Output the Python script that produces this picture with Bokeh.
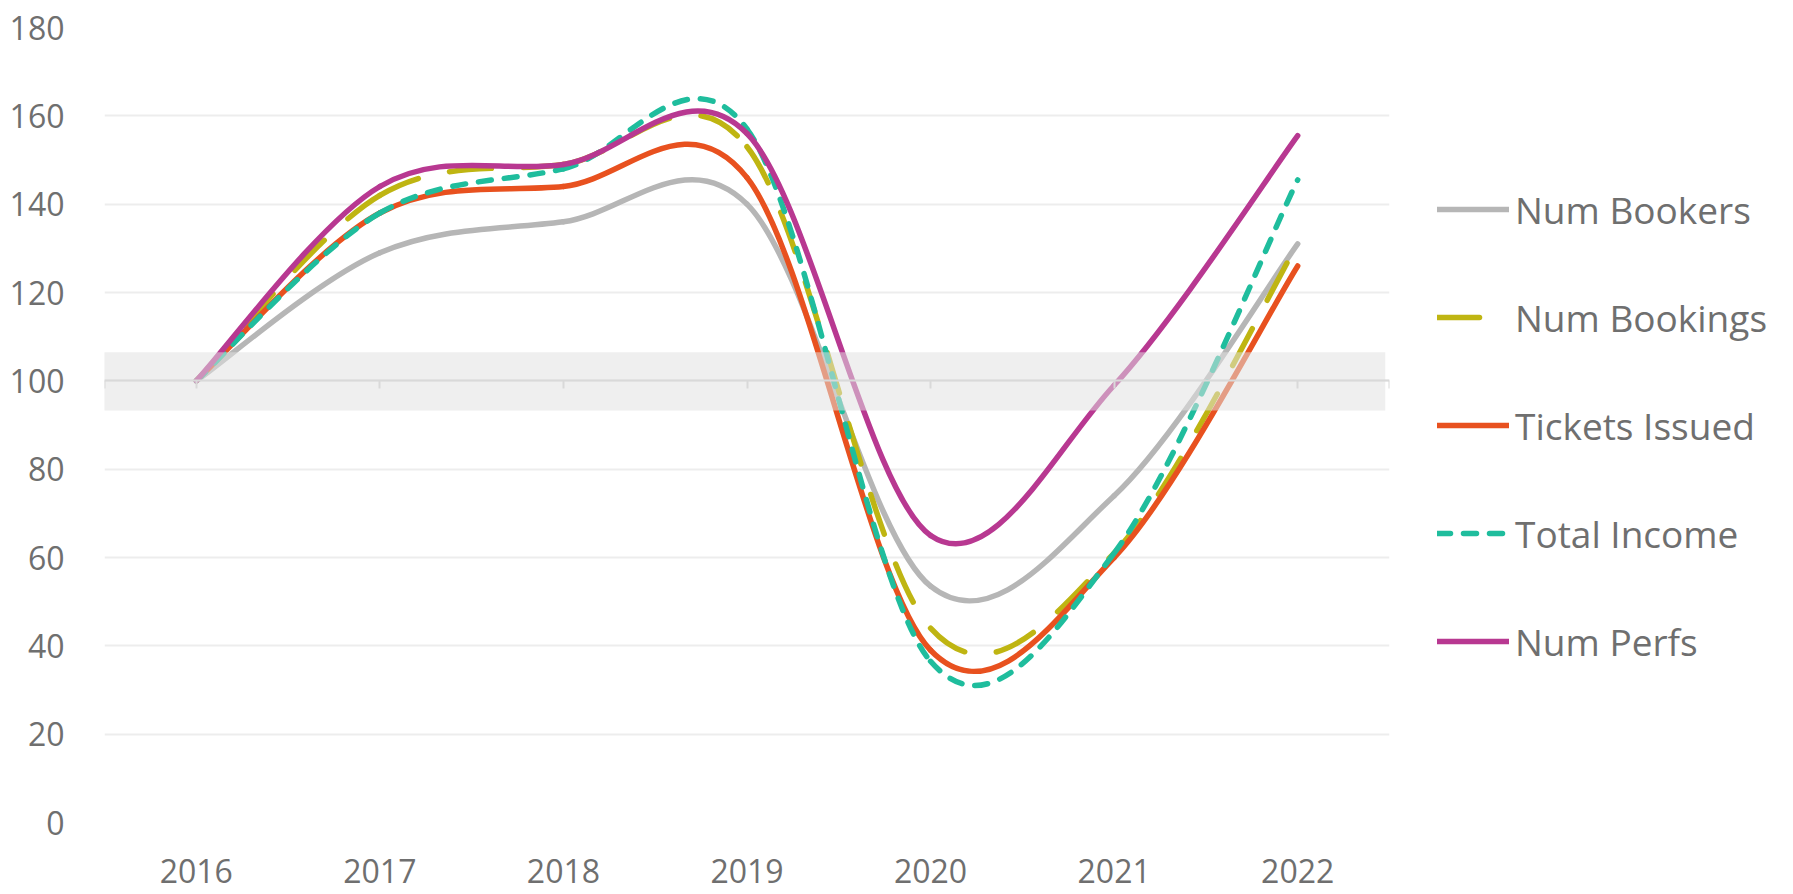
from bokeh.plotting import figure
from bokeh.models import (Range1d, FixedTicker, BoxAnnotation, Legend, LegendItem,
                          LinearAxis)
from bokeh.embed import file_html
from bokeh.resources import INLINE

years = [2016, 2017, 2018, 2019, 2020, 2021, 2022]
year_labels = ["2016", "2017", "2018", "2019", "2020", "2021", "2022"]
y_ticks = [0, 20, 40, 60, 80, 100, 120, 140, 160, 180]

num_bookers = [100, 129, 136, 140, 53.5, 74, 131]
num_bookings = [100, 142, 149, 153, 44, 61, 131]
tickets_issued = [100, 138, 144, 146, 39, 60, 126]
total_income = [100, 138, 148, 157, 36.5, 61, 145.5]
num_perfs = [100, 144, 149, 156, 65, 99, 155.5]

series_names = ["Num Bookers", "Num Bookings", "Tickets Issued", "Total Income", "Num Perfs"]
series_values = [num_bookers, num_bookings, tickets_issued, total_income, num_perfs]
series_colors = ["#b6b6b6", "#bfb512", "#e8511f", "#1fbd9d", "#b83891"]
series_dash = ["solid", "42 32", "solid", "13 13", "solid"]

FONT = "Open Sans"
TEXT = "#6f6f6f"


def smooth_controls(xs, ys):
    """Bezier control points (Catmull-Rom style, like a spreadsheet's smoothed line)."""
    n = len(xs)
    out = dict(x0=[], y0=[], x1=[], y1=[], cx0=[], cy0=[], cx1=[], cy1=[])
    for i in range(n - 1):
        a = i - 1 if i > 0 else i
        d = i + 2 if i + 2 < n else i + 1
        out["x0"].append(xs[i]); out["y0"].append(ys[i])
        out["x1"].append(xs[i + 1]); out["y1"].append(ys[i + 1])
        out["cx0"].append(xs[i] + (xs[i + 1] - xs[a]) / 6.0)
        out["cy0"].append(ys[i] + (ys[i + 1] - ys[a]) / 6.0)
        out["cx1"].append(xs[i + 1] - (xs[d] - xs[i]) / 6.0)
        out["cy1"].append(ys[i + 1] - (ys[d] - ys[i]) / 6.0)
    return out


x_lo = years[0] - 0.5
x_hi = years[-1] + 0.5

p = figure(frame_width=1285, frame_height=795,
           min_border_left=104, min_border_top=27, min_border_bottom=72,
           min_border_right=396,
           x_range=Range1d(x_lo, x_hi), y_range=Range1d(0, 180),
           output_backend="svg", toolbar_location=None,
           x_axis_location=None, y_axis_location=None)
p.outline_line_color = None
p.background_fill_color = "white"
p.border_fill_color = "white"

# y axis (labels only)
yax = LinearAxis(ticker=FixedTicker(ticks=y_ticks))
yax.axis_line_color = None
yax.major_tick_line_color = None
yax.minor_tick_line_color = None
yax.major_label_text_font = FONT
yax.major_label_text_font_size = "32px"
yax.major_label_text_color = TEXT
yax.major_label_standoff = 34
p.add_layout(yax, "left")

# x axis labels at the bottom
xax = LinearAxis(ticker=FixedTicker(ticks=years))
xax.major_label_overrides = {y: l for y, l in zip(years, year_labels)}
xax.axis_line_color = None
xax.major_tick_line_color = None
xax.minor_tick_line_color = None
xax.major_label_text_font = FONT
xax.major_label_text_font_size = "32px"
xax.major_label_text_color = TEXT
xax.major_label_standoff = 30
p.add_layout(xax, "below")

# horizontal axis line crossing at 100
xline = LinearAxis(ticker=FixedTicker(ticks=[x_lo] + years + [x_hi]), fixed_location=100)
xline.axis_line_color = "#d9d9d9"
xline.axis_line_width = 2
xline.major_tick_line_color = "#d9d9d9"
xline.major_tick_line_width = 2
xline.major_tick_in = 0
xline.major_tick_out = 8
xline.minor_tick_line_color = None
xline.major_label_text_font_size = "0px"
xline.major_label_text_color = None
p.add_layout(xline, "below")

p.xgrid.visible = False
p.ygrid.ticker = FixedTicker(ticks=y_ticks)
p.ygrid.grid_line_color = "#ededed"
p.ygrid.grid_line_width = 2

renderers = []
for name, vals, col, dash in zip(series_names, series_values, series_colors, series_dash):
    src = smooth_controls(years, vals)
    r = p.bezier(x0="x0", y0="y0", x1="x1", y1="y1", cx0="cx0", cy0="cy0",
                 cx1="cx1", cy1="cy1", source=src, line_color=col, line_width=5.5,
                 line_dash=dash, line_cap="round", line_join="round")
    renderers.append((name, r))

band = BoxAnnotation(bottom=93.3, top=106.5, left=x_lo - 0.02, right=x_hi - 0.023,
                     fill_color="#e1e1e1", fill_alpha=0.53, line_color=None,
                     level="glyph")
p.add_layout(band)

legend = Legend(items=[LegendItem(label=n, renderers=[r]) for n, r in renderers],
                location=(48, 155), orientation="vertical")
legend.border_line_color = None
legend.background_fill_alpha = 0
legend.margin = 0
legend.padding = 0
legend.glyph_width = 72
legend.glyph_height = 52
legend.label_height = 52
legend.spacing = 56
legend.label_standoff = 6
legend.label_text_font = FONT
legend.label_text_font_size = "37px"
legend.label_text_color = TEXT
legend.label_text_baseline = "middle"
p.add_layout(legend, "right")

open("out.html", "w").write(file_html(p, INLINE))
